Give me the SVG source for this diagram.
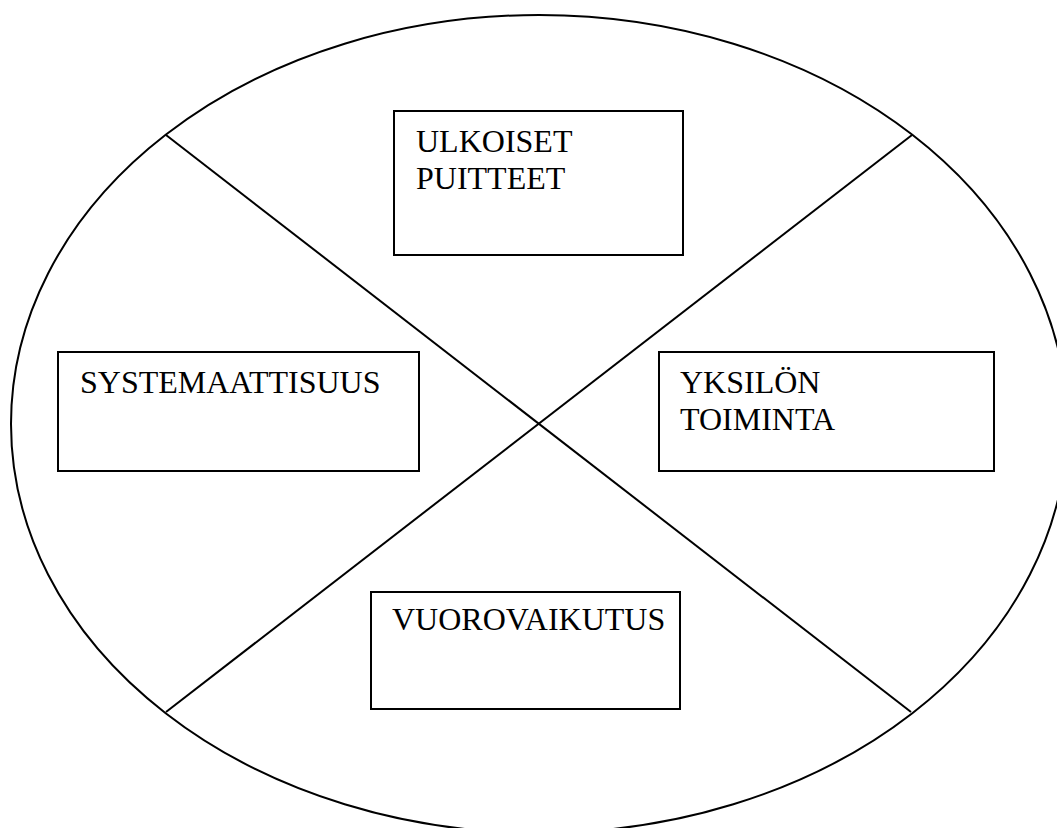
<svg xmlns="http://www.w3.org/2000/svg" width="1057" height="828" viewBox="0 0 1057 828">
  <style>
    .outline { fill: none; stroke: #000; stroke-width: 2; }
    .box { fill: #fff; stroke: #000; stroke-width: 2; }
    .label { font-family: "Liberation Serif", "Times New Roman", serif; font-size: 32px; fill: #000; }
  </style>
  <rect width="1057" height="828" fill="#fff"/>
  <ellipse id="frame" class="outline" cx="539" cy="424" rx="528" ry="409"/>
  <g id="connectors">
    <line class="outline" x1="166" y1="135" x2="911" y2="712"/>
    <line class="outline" x1="912" y1="135" x2="166" y2="712"/>
  </g>
  <g id="ulkoiset">
    <rect class="box" x="394" y="111" width="289" height="144"/>
    <text class="label" x="416" y="152">ULKOISET</text>
    <text class="label" x="416" y="189">PUITTEET</text>
  </g>
  <g id="systemaattisuus">
    <rect class="box" x="58" y="352" width="361" height="119"/>
    <text class="label" x="80" y="393">SYSTEMAATTISUUS</text>
  </g>
  <g id="yksilon">
    <rect class="box" x="659" y="352" width="335" height="119"/>
    <text class="label" x="680" y="393">YKSILÖN</text>
    <text class="label" x="680" y="430">TOIMINTA</text>
  </g>
  <g id="vuorovaikutus">
    <rect class="box" x="371" y="592" width="309" height="117"/>
    <text class="label" x="392" y="630">VUOROVAIKUTUS</text>
  </g>
</svg>
